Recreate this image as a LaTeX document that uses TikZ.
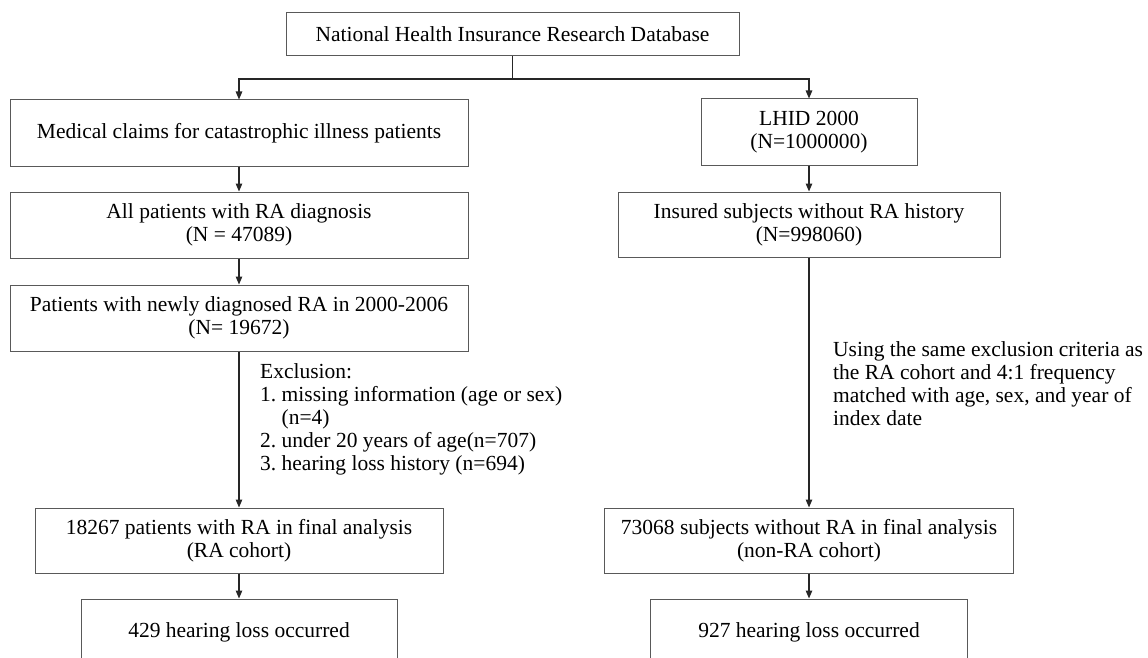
\documentclass[tikz,border=0pt]{standalone}
\usepackage{fontspec}
\setmainfont{Liberation Serif}
\usetikzlibrary{arrows.meta}
\definecolor{BoxGray}{rgb}{0.35,0.35,0.35}
\definecolor{LineDark}{rgb}{0.15,0.15,0.15}

\begin{document}
\begin{tikzpicture}[x=1pt,y=-1pt,
  box/.style={draw=BoxGray,line width=1pt,align=center,inner sep=0pt,minimum height=66pt,
    font=\fontsize{21.5}{23}\selectfont},
  note/.style={align=left,inner sep=0pt,anchor=north west,font=\fontsize{21.5}{23}\selectfont},
  flow/.style={draw=LineDark,line width=1.2pt,-{Triangle[length=8pt,width=6.5pt]}}]
\useasboundingbox (0,0) rectangle (1148,658);

\node[box,minimum width=453pt,minimum height=43pt] (nhird) at (512.5,34.5) {National Health Insurance Research Database};
\coordinate (split) at (512.5,79);

% RA side
\node[box,minimum width=458pt] (claims) at (239,133) {Medical claims for catastrophic illness patients};
\node[box,minimum width=458pt] (alldx) at (239,225) {All patients with RA diagnosis\\(N = 47089)};
\node[box,minimum width=458pt] (newdx) at (239,318) {Patients with newly diagnosed RA in 2000-2006\\(N= 19672)};
\node[box,minimum width=408pt,minimum height=65pt] (racohort) at (239,540.5) {18267 patients with RA in final analysis\\(RA cohort)};
\node[box,minimum width=316pt] (lossra) at (239,632) {429 hearing loss occurred};

% non-RA side
\node[box,minimum width=216pt] (lhid) at (809,132) {LHID 2000\\(N=1000000)};
\node[box,minimum width=382pt,minimum height=65pt] (insured) at (809,224.5) {Insured subjects without RA history\\(N=998060)};
\node[box,minimum width=409pt,minimum height=65pt] (nonra) at (809,540.5) {73068 subjects without RA in final analysis\\(non-RA cohort)};
\node[box,minimum width=317pt] (lossnonra) at (809,632) {927 hearing loss occurred};

\node[note] (excl) at (260,363) {Exclusion:\\1.\ missing information (age or sex)\\\phantom{1.\ }(n=4)\\2.\ under 20 years of age(n=707)\\3.\ hearing loss history (n=694)};
\node[note] (match) at (833,341) {Using the same exclusion criteria as\\the RA cohort and 4:1 frequency\\matched with age, sex, and year of\\index date};

\draw[draw=LineDark,line width=1.2pt] (nhird.south) -- (split);
\draw[flow] (split) -| (claims.north);
\draw[flow] (split) -| (lhid.north);

\draw[flow] (claims.south) -- (alldx.north);
\draw[flow] (alldx.south) -- (newdx.north);
\draw[flow] (newdx.south) -- (racohort.north);
\draw[flow] (racohort.south) -- (lossra.north);

\draw[flow] (lhid.south) -- (insured.north);
\draw[flow] (insured.south) -- (nonra.north);
\draw[flow] (nonra.south) -- (lossnonra.north);

\end{tikzpicture}
\end{document}
